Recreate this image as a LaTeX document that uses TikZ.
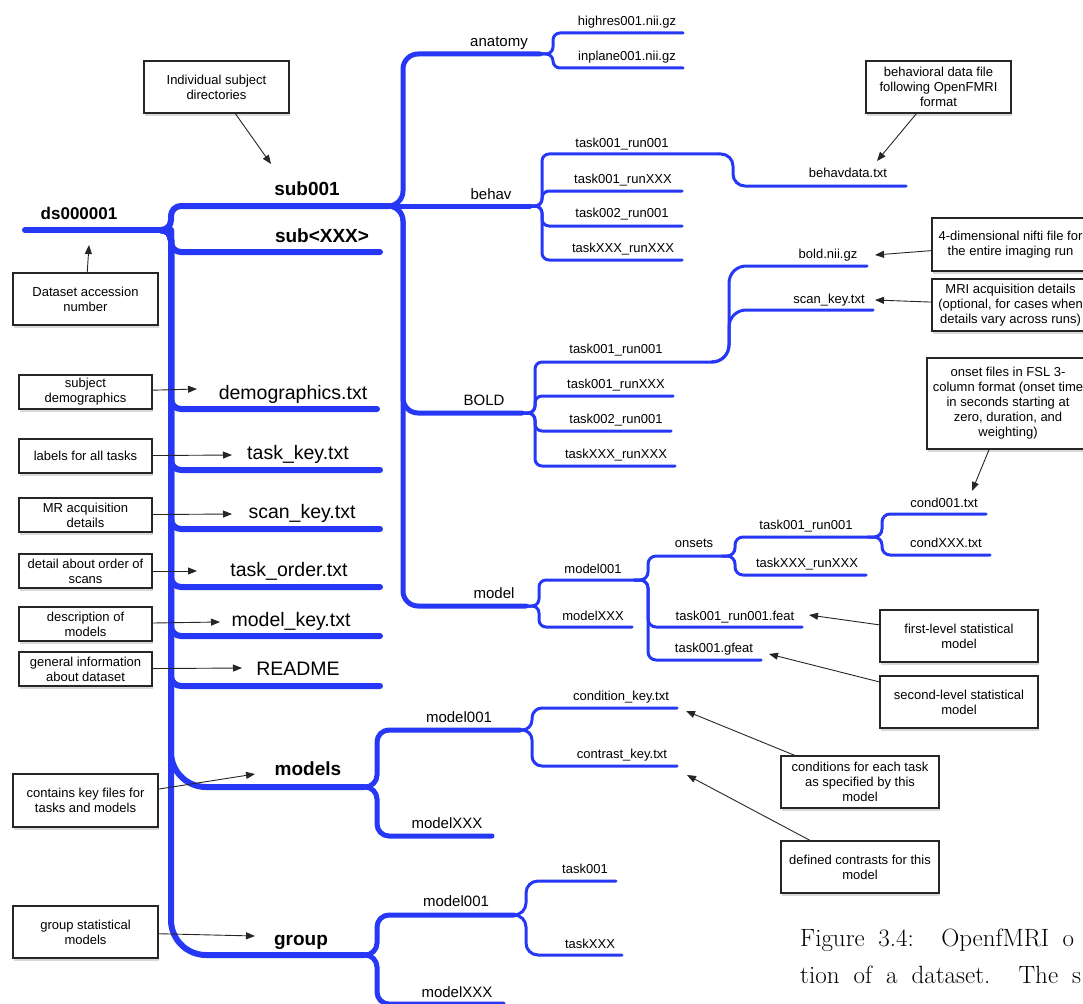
\documentclass[tikz,border=0pt]{standalone}
\usepackage{fontspec}
\newfontfamily\labfont{Liberation Sans}
\usetikzlibrary{arrows.meta,shadows}
\pgfdeclarelayer{edgelayer}
\pgfdeclarelayer{nodelayer}
\pgfsetlayers{edgelayer,nodelayer,main}
\definecolor{mapblue}{RGB}{38,56,245}
\tikzset{font=\labfont}
\tikzstyle{none}=[inner sep=0pt]
\tikzstyle{trunk}=[draw=mapblue, line width=6pt, line cap=round]
\tikzstyle{limb}=[draw=mapblue, line width=5pt, line cap=round]
\tikzstyle{twig}=[draw=mapblue, line width=3pt, line cap=round]
\tikzstyle{rootlab}=[inner sep=0pt, anchor=base, font=\labfont\bfseries\fontsize{17}{20}\selectfont]
\tikzstyle{dirlab}=[inner sep=0pt, anchor=base, font=\labfont\bfseries\fontsize{19}{22}\selectfont]
\tikzstyle{filelab}=[inner sep=0pt, anchor=base, font=\labfont\fontsize{19.5}{23}\selectfont]
\tikzstyle{sublab}=[inner sep=0pt, anchor=base, font=\labfont\fontsize{15}{18}\selectfont]
\tikzstyle{leaflab}=[inner sep=0pt, anchor=base, font=\labfont\fontsize{13}{15}\selectfont]
\tikzstyle{note}=[draw=black!85, line width=1.1pt, fill=white, align=center, inner sep=0pt, font=\labfont\fontsize{13}{15}\selectfont, drop shadow={shadow xshift=0.5pt, shadow yshift=-3pt, opacity=0.3}]
\tikzstyle{pointer}=[draw=black!85, line width=0.9pt, -{Triangle[length=9pt, width=7pt]}]
\tikzstyle{caption}=[inner sep=0pt, anchor=base west, font=\rmfamily\fontsize{25}{30}\selectfont]

\begin{document}
\begin{tikzpicture}[x=1pt, y=-1pt]
	\useasboundingbox (0, 0) rectangle (1083, 1003);
	\begin{pgfonlayer}{nodelayer}
		% tree labels
		\node [style=rootlab] (ds) at (79, 219) {ds000001};
		\node [style=dirlab] (sub001) at (307, 195) {sub001};
		\node [style=dirlab] (subX) at (322, 242) {sub<XXX>};
		\node [style=filelab] (demog) at (293, 399) {demographics.txt};
		\node [style=filelab] (taskkey) at (298, 459) {task\_key.txt};
		\node [style=filelab] (scankey) at (302, 518) {scan\_key.txt};
		\node [style=filelab] (taskorder) at (289, 576) {task\_order.txt};
		\node [style=filelab] (modelkey) at (291, 626) {model\_key.txt};
		\node [style=filelab] (readme) at (298, 675) {README};
		\node [style=dirlab] (models) at (308, 775) {models};
		\node [style=dirlab] (group) at (301, 945) {group};
		\node [style=sublab] (anatomy) at (499, 47) {anatomy};
		\node [style=sublab] (behav) at (491, 200) {behav};
		\node [style=sublab] (bold) at (484, 405) {BOLD};
		\node [style=sublab] (model) at (494, 598) {model};
		\node [style=sublab] (mm1) at (459, 722) {model001};
		\node [style=sublab] (mmX) at (447, 828) {modelXXX};
		\node [style=sublab] (gm1) at (456, 906) {model001};
		\node [style=sublab] (gmX) at (457, 997) {modelXXX};
		\node [style=leaflab] (highres) at (627, 26) {highres001.nii.gz};
		\node [style=leaflab] (inplane) at (627, 61) {inplane001.nii.gz};
		\node [style=leaflab] (bt1) at (622, 148) {task001\_run001};
		\node [style=leaflab] (bt2) at (623, 183) {task001\_runXXX};
		\node [style=leaflab] (bt3) at (622, 217) {task002\_run001};
		\node [style=leaflab] (bt4) at (623, 252) {taskXXX\_runXXX};
		\node [style=leaflab] (bdata) at (848, 178) {behavdata.txt};
		\node [style=leaflab] (boldnii) at (828, 258) {bold.nii.gz};
		\node [style=leaflab] (scanrun) at (829, 303) {scan\_key.txt};
		\node [style=leaflab] (bd1) at (616, 353) {task001\_run001};
		\node [style=leaflab] (bd2) at (616, 388) {task001\_runXXX};
		\node [style=leaflab] (bd3) at (616, 423) {task002\_run001};
		\node [style=leaflab] (bd4) at (616, 458) {taskXXX\_runXXX};
		\node [style=leaflab] (m1) at (593, 573) {model001};
		\node [style=leaflab] (mX) at (593, 620) {modelXXX};
		\node [style=leaflab] (onsets) at (694, 547) {onsets};
		\node [style=leaflab] (ot1) at (806, 529) {task001\_run001};
		\node [style=leaflab] (otX) at (807, 567) {taskXXX\_runXXX};
		\node [style=leaflab] (cond1) at (944, 507) {cond001.txt};
		\node [style=leaflab] (condX) at (946, 547) {condXXX.txt};
		\node [style=leaflab] (feat) at (735, 620) {task001\_run001.feat};
		\node [style=leaflab] (gfeat) at (714, 652) {task001.gfeat};
		\node [style=leaflab] (condkey) at (621, 700) {condition\_key.txt};
		\node [style=leaflab] (contrast) at (622, 758) {contrast\_key.txt};
		\node [style=leaflab] (gtask1) at (585, 873) {task001};
		\node [style=leaflab] (gtaskX) at (590, 948) {taskXXX};
		% call-out boxes
		\node [style=note, minimum width=145pt, minimum height=52pt] (subnote) at (216.5, 87) {Individual subject\\directories};
		\node [style=note, minimum width=145pt, minimum height=52pt] (dsnote) at (85.5, 299) {Dataset accession\\number};
		\node [style=note, minimum width=145pt, minimum height=52pt] (bdatanote) at (938.5, 87) {behavioral data file\\following OpenFMRI\\format};
		\node [style=note, minimum width=157pt, minimum height=53pt] (boldnote) at (1010.5, 244.5) {4-dimensional nifti file for\\the entire imaging run};
		\node [style=note, minimum width=157pt, minimum height=52pt] (scannote) at (1010.5, 305) {MRI acquisition details\\(optional, for cases when\\details vary across runs)};
		\node [style=note, minimum width=162pt, minimum height=91pt] (condnote) at (1008, 403.5) {onset files in FSL 3-\\column format (onset time\\in seconds starting at\\zero, duration, and\\weighting)};
		\node [style=note, minimum width=158pt, minimum height=52pt] (featnote) at (959, 636) {first-level statistical\\model};
		\node [style=note, minimum width=158pt, minimum height=52pt] (gfeatnote) at (959, 702) {second-level statistical\\model};
		\node [style=note, minimum width=158pt, minimum height=52pt] (condkeynote) at (860, 782) {conditions for each task\\as specified by this\\model};
		\node [style=note, minimum width=158pt, minimum height=52pt] (contrastnote) at (860, 867) {defined contrasts for this\\model};
		\node [style=note, minimum width=133pt, minimum height=34pt] (demognote) at (85.5, 392) {subject\\demographics};
		\node [style=note, minimum width=133pt, minimum height=34pt] (taskkeynote) at (85.5, 456) {labels for all tasks};
		\node [style=note, minimum width=133pt, minimum height=34pt] (scankeynote) at (85.5, 515) {MR acquisition\\details};
		\node [style=note, minimum width=133pt, minimum height=34pt] (taskordernote) at (85.5, 571) {detail about order of\\scans};
		\node [style=note, minimum width=133pt, minimum height=34pt] (modelkeynote) at (85.5, 624) {description of\\models};
		\node [style=note, minimum width=133pt, minimum height=34pt] (readmenote) at (85.5, 669) {general information\\about dataset};
		\node [style=note, minimum width=145pt, minimum height=53pt] (modelsnote) at (85.5, 800.5) {contains key files for\\tasks and models};
		\node [style=note, minimum width=145pt, minimum height=52pt] (groupnote) at (85.5, 932) {group statistical\\models};
		% caption lines cut by the page edge
		\node [style=caption] (cap1) at (800, 946) {\makebox[274pt][s]{Figure 3.4:\ \ OpenfMRI o}};
		\node [style=caption] (cap2) at (800, 983) {\makebox[281pt][s]{tion of a dataset.\ \ The s}};
		% line ends and forks
		\node [style=none] (ds-s) at (25, 230) {};
		\node [style=none] (ds-e) at (160, 230) {};
		\node [style=none] (ds-v) at (171, 230) {};
		\node [style=none] (sub001-e) at (388, 206) {};
		\node [style=none] (sub001-v) at (403, 206) {};
		\node [style=none] (subX-e) at (380, 252) {};
		\node [style=none] (demog-e) at (377, 409) {};
		\node [style=none] (taskkey-e) at (380, 470) {};
		\node [style=none] (scankey-e) at (380, 529) {};
		\node [style=none] (taskorder-e) at (380, 587) {};
		\node [style=none] (modelkey-e) at (380, 636) {};
		\node [style=none] (readme-e) at (380, 686) {};
		\node [style=none] (models-e) at (364, 787) {};
		\node [style=none] (models-v) at (377, 787) {};
		\node [style=none] (group-e) at (364, 955) {};
		\node [style=none] (group-v) at (377, 955) {};
		\node [style=none] (anatomy-e) at (540, 54) {};
		\node [style=none] (anatomy-v) at (553, 54) {};
		\node [style=none] (highres-e) at (683, 33) {};
		\node [style=none] (inplane-e) at (683, 68) {};
		\node [style=none] (behav-e) at (530, 206) {};
		\node [style=none] (behav-v) at (542, 206) {};
		\node [style=none] (bt1-e) at (719, 154) {};
		\node [style=none] (bt1-v) at (733, 154) {};
		\node [style=none] (bt2-e) at (682, 191) {};
		\node [style=none] (bt3-e) at (682, 226) {};
		\node [style=none] (bt4-e) at (682, 260) {};
		\node [style=none] (bdata-e) at (906, 186) {};
		\node [style=none] (bold-e) at (522, 413) {};
		\node [style=none] (bold-v) at (535, 413) {};
		\node [style=none] (bd1-e) at (712, 362) {};
		\node [style=none] (bd1-v) at (729, 362) {};
		\node [style=none] (bd2-e) at (673, 396) {};
		\node [style=none] (bd3-e) at (671, 431) {};
		\node [style=none] (bd4-e) at (675, 466) {};
		\node [style=none] (boldnii-e) at (867, 266) {};
		\node [style=none] (scanrun-e) at (873, 310) {};
		\node [style=none] (model-e) at (526, 606) {};
		\node [style=none] (model-v) at (539, 606) {};
		\node [style=none] (m1-e) at (634, 580) {};
		\node [style=none] (m1-v) at (648, 580) {};
		\node [style=none] (mX-e) at (632, 627) {};
		\node [style=none] (onsets-e) at (722, 556) {};
		\node [style=none] (onsets-v) at (735, 556) {};
		\node [style=none] (ot1-e) at (868, 537) {};
		\node [style=none] (ot1-v) at (882, 537) {};
		\node [style=none] (otX-e) at (866, 575) {};
		\node [style=none] (cond1-e) at (986, 514) {};
		\node [style=none] (condX-e) at (990, 555) {};
		\node [style=none] (feat-e) at (802, 627) {};
		\node [style=none] (gfeat-e) at (761, 660) {};
		\node [style=none] (mm1-e) at (520, 730) {};
		\node [style=none] (mm1-v) at (532, 730) {};
		\node [style=none] (mmX-e) at (492, 836) {};
		\node [style=none] (condkey-e) at (677, 708) {};
		\node [style=none] (contrast-e) at (677, 766) {};
		\node [style=none] (gm1-e) at (514, 915) {};
		\node [style=none] (gm1-v) at (526, 915) {};
		\node [style=none] (gmX-e) at (503, 1004) {};
		\node [style=none] (gtask1-e) at (616, 881) {};
		\node [style=none] (gtaskX-e) at (622, 955) {};
		% arrow tips
		\node [style=none] (tip-sub) at (271, 164) {};
		\node [style=none] (tip-ds) at (89, 245) {};
		\node [style=none] (tip-bdata) at (877, 161) {};
		\node [style=none] (tip-boldnii) at (875, 255) {};
		\node [style=none] (tip-scanrun) at (875, 300) {};
		\node [style=none] (tip-cond) at (972, 491) {};
		\node [style=none] (tip-feat) at (809, 615) {};
		\node [style=none] (tip-gfeat) at (769, 654) {};
		\node [style=none] (tip-condkey) at (686, 711) {};
		\node [style=none] (tip-contrast) at (687, 775) {};
		\node [style=none] (tip-demog) at (197, 389) {};
		\node [style=none] (tip-taskkey) at (232, 455) {};
		\node [style=none] (tip-scankey) at (232, 514) {};
		\node [style=none] (tip-taskorder) at (197, 571) {};
		\node [style=none] (tip-modelkey) at (220, 622) {};
		\node [style=none] (tip-readme) at (242, 668) {};
		\node [style=none] (tip-models) at (255, 774) {};
		\node [style=none] (tip-group) at (255, 936) {};
	\end{pgfonlayer}
	\begin{pgfonlayer}{edgelayer}
		% dataset root
		\draw [style=trunk] (ds-s.center) to (ds-e.center);
		\draw [style=trunk, rounded corners=10pt] (ds-e.center) -- (ds-v.center) |- (sub001-e.center);
		\draw [style=trunk, rounded corners=10pt] (ds-e.center) -- (ds-v.center) |- (subX-e.center);
		\draw [style=trunk, rounded corners=10pt] (ds-e.center) -- (ds-v.center) |- (demog-e.center);
		\draw [style=trunk, rounded corners=10pt] (ds-e.center) -- (ds-v.center) |- (taskkey-e.center);
		\draw [style=trunk, rounded corners=10pt] (ds-e.center) -- (ds-v.center) |- (scankey-e.center);
		\draw [style=trunk, rounded corners=10pt] (ds-e.center) -- (ds-v.center) |- (taskorder-e.center);
		\draw [style=trunk, rounded corners=10pt] (ds-e.center) -- (ds-v.center) |- (modelkey-e.center);
		\draw [style=trunk, rounded corners=10pt] (ds-e.center) -- (ds-v.center) |- (readme-e.center);
		\draw [style=trunk, rounded corners=35pt] (ds-v.center) |- (models-e.center);
		\draw [style=trunk, rounded corners=35pt] (ds-v.center) |- (group-e.center);
		% sub001
		\draw [style=limb, rounded corners=15pt] (sub001-e.center) -- (sub001-v.center) |- (anatomy-e.center);
		\draw [style=limb] (sub001-e.center) to (behav-e.center);
		\draw [style=limb, rounded corners=15pt] (sub001-e.center) -- (sub001-v.center) |- (bold-e.center);
		\draw [style=limb, rounded corners=15pt] (sub001-e.center) -- (sub001-v.center) |- (model-e.center);
		\draw [style=twig, rounded corners=7pt] (anatomy-e.center) -- (anatomy-v.center) |- (highres-e.center);
		\draw [style=twig, rounded corners=7pt] (anatomy-e.center) -- (anatomy-v.center) |- (inplane-e.center);
		\draw [style=twig, rounded corners=7pt] (behav-e.center) -- (behav-v.center) |- (bt1-e.center);
		\draw [style=twig, rounded corners=7pt] (behav-e.center) -- (behav-v.center) |- (bt2-e.center);
		\draw [style=twig, rounded corners=7pt] (behav-e.center) -- (behav-v.center) |- (bt3-e.center);
		\draw [style=twig, rounded corners=7pt] (behav-e.center) -- (behav-v.center) |- (bt4-e.center);
		\draw [style=twig, rounded corners=12pt] (bt1-e.center) -- (bt1-v.center) |- (bdata-e.center);
		\draw [style=twig, rounded corners=7pt] (bold-e.center) -- (bold-v.center) |- (bd1-e.center);
		\draw [style=twig, rounded corners=7pt] (bold-e.center) -- (bold-v.center) |- (bd2-e.center);
		\draw [style=twig, rounded corners=7pt] (bold-e.center) -- (bold-v.center) |- (bd3-e.center);
		\draw [style=twig, rounded corners=7pt] (bold-e.center) -- (bold-v.center) |- (bd4-e.center);
		\draw [style=twig, rounded corners=17pt] (bd1-e.center) -- (bd1-v.center) |- (boldnii-e.center);
		\draw [style=twig, rounded corners=17pt] (bd1-e.center) -- (bd1-v.center) |- (scanrun-e.center);
		\draw [style=twig, rounded corners=7pt] (model-e.center) -- (model-v.center) |- (m1-e.center);
		\draw [style=twig, rounded corners=7pt] (model-e.center) -- (model-v.center) |- (mX-e.center);
		\draw [style=twig, rounded corners=8pt] (m1-e.center) -- (m1-v.center) |- (onsets-e.center);
		\draw [style=twig, rounded corners=8pt] (m1-e.center) -- (m1-v.center) |- (feat-e.center);
		\draw [style=twig, rounded corners=8pt] (m1-e.center) -- (m1-v.center) |- (gfeat-e.center);
		\draw [style=twig, rounded corners=8pt] (onsets-e.center) -- (onsets-v.center) |- (ot1-e.center);
		\draw [style=twig, rounded corners=8pt] (onsets-e.center) -- (onsets-v.center) |- (otX-e.center);
		\draw [style=twig, rounded corners=8pt] (ot1-e.center) -- (ot1-v.center) |- (cond1-e.center);
		\draw [style=twig, rounded corners=8pt] (ot1-e.center) -- (ot1-v.center) |- (condX-e.center);
		% models
		\draw [style=limb, rounded corners=12pt] (models-e.center) -- (models-v.center) |- (mm1-e.center);
		\draw [style=limb, rounded corners=12pt] (models-e.center) -- (models-v.center) |- (mmX-e.center);
		\draw [style=twig, rounded corners=10pt] (mm1-e.center) -- (mm1-v.center) |- (condkey-e.center);
		\draw [style=twig, rounded corners=10pt] (mm1-e.center) -- (mm1-v.center) |- (contrast-e.center);
		% group
		\draw [style=limb, rounded corners=12pt] (group-e.center) -- (group-v.center) |- (gm1-e.center);
		\draw [style=limb, rounded corners=12pt] (group-e.center) -- (group-v.center) |- (gmX-e.center);
		\draw [style=twig, rounded corners=12pt] (gm1-e.center) -- (gm1-v.center) |- (gtask1-e.center);
		\draw [style=twig, rounded corners=12pt] (gm1-e.center) -- (gm1-v.center) |- (gtaskX-e.center);
	\end{pgfonlayer}
	% call-out arrows
	\draw [style=pointer] (subnote) to (tip-sub.center);
	\draw [style=pointer] (dsnote) to (tip-ds.center);
	\draw [style=pointer] (bdatanote) to (tip-bdata.center);
	\draw [style=pointer] (boldnote) to (tip-boldnii.center);
	\draw [style=pointer] (scannote) to (tip-scanrun.center);
	\draw [style=pointer] (condnote) to (tip-cond.center);
	\draw [style=pointer] (featnote) to (tip-feat.center);
	\draw [style=pointer] (gfeatnote) to (tip-gfeat.center);
	\draw [style=pointer] (condkeynote) to (tip-condkey.center);
	\draw [style=pointer] (contrastnote) to (tip-contrast.center);
	\draw [style=pointer] (demognote) to (tip-demog.center);
	\draw [style=pointer] (taskkeynote) to (tip-taskkey.center);
	\draw [style=pointer] (scankeynote) to (tip-scankey.center);
	\draw [style=pointer] (taskordernote) to (tip-taskorder.center);
	\draw [style=pointer] (modelkeynote) to (tip-modelkey.center);
	\draw [style=pointer] (readmenote) to (tip-readme.center);
	\draw [style=pointer] (modelsnote) to (tip-models.center);
	\draw [style=pointer] (groupnote) to (tip-group.center);
\end{tikzpicture}
\end{document}
